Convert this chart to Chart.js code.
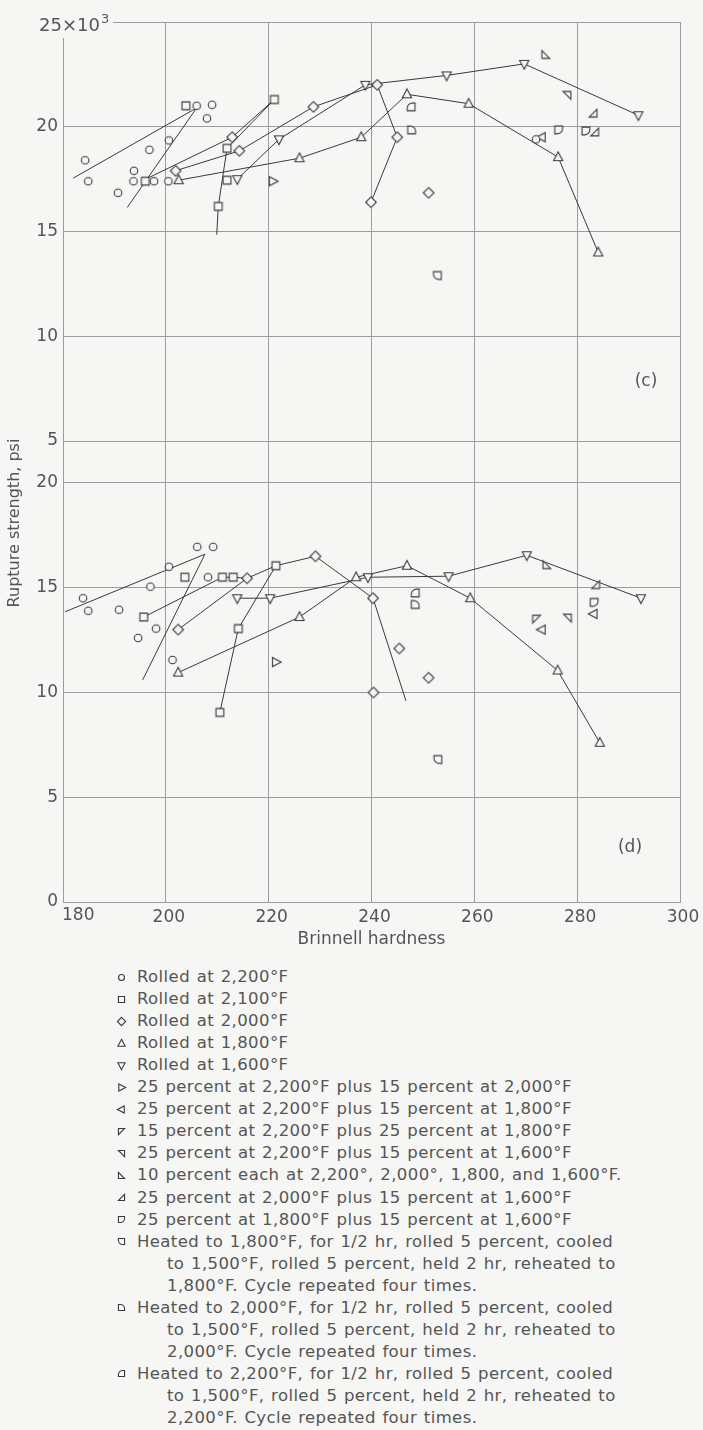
<!DOCTYPE html>
<html>
<head>
<meta charset="utf-8">
<script src="https://cdn.jsdelivr.net/npm/chart.js@4.4.1/dist/chart.umd.min.js"></script>
<style>
    html, body { margin: 0; padding: 0; background: #f6f6f4; }
    body { width: 703px; height: 1430px; position: relative; overflow: hidden;
           font-family: "DejaVu Sans", sans-serif; color: #555; }
    #chart { position: absolute; left: 0; top: 0; }
    .legend-row { position: absolute; white-space: nowrap; font-size: 16.5px; line-height: 22px;
                  letter-spacing: 0.4px; word-spacing: 1px; }
    .legend-mark { position: absolute; }
</style>
</head>
<body>
<canvas id="chart" width="703" height="960"></canvas>
<div id="legend"></div>
<script>
/**
 * Rupture strength vs Brinell hardness, panels (c) and (d).
 * Points are [Brinell hardness, rupture strength in 1000 psi].
 */

// Tick labels
const hardnessTicks = [180, 200, 220, 240, 260, 280, 300];
const panelCTicks = [5, 10, 15, 20, 25];
const panelDTicks = [0, 5, 10, 15, 20];
// Panel (c) is stacked above panel (d) on one shared scale
const PANEL_C_SHIFT = 17;

// ---- Panel (c) ----
const cRolled2200 = [[184.3, 18.4], [184.9, 17.4], [190.7, 16.85], [193.8, 17.9], [193.7, 17.4], [196.8, 18.9],
    [197.7, 17.4], [200.6, 19.35], [200.5, 17.4], [206.0, 21.0], [208.0, 20.4], [209.0, 21.05], [272.0, 19.4]];
const cRolled2100 = [[203.9, 21.0], [196.0, 17.4], [211.9, 18.97], [211.9, 17.45], [210.2, 16.2], [221.1, 21.3]];
const cRolled2000 = [[201.9, 17.9], [212.9, 19.5], [214.3, 18.85], [228.7, 20.95], [241.1, 22.0], [245.0, 19.5],
    [239.9, 16.4], [251.1, 16.85]];
const cRolled1800 = [[202.5, 17.45], [226.0, 18.5], [238.0, 19.5], [246.9, 21.55], [258.9, 21.1], [276.3, 18.55], [284.1, 14.0]];
const cRolled1600 = [[213.9, 17.5], [222.0, 19.4], [238.8, 22.0], [254.6, 22.45], [269.7, 23.0], [291.9, 20.55]];
const c25at2200_15at2000 = [[220.8, 17.4]];
const c25at2200_15at1800 = [[273.1, 19.5]];
const c15at2200_25at1800 = [];
const c25at2200_15at1600 = [[278.0, 21.5]];
const c10each = [[273.9, 23.45]];
const c25at2000_15at1600 = [[283.1, 20.65], [283.4, 19.75]];
const c25at1800_15at1600 = [[276.4, 19.85], [281.7, 19.8]];
const cCycled1800 = [[252.8, 12.9]];
const cCycled2000 = [[247.8, 19.85]];
const cCycled2200 = [[247.7, 20.95]];

const cLine1 = [[182.0, 17.55], [206.0, 20.9]];
const cLine2 = [[192.5, 16.15], [206.0, 20.9]];
const cLine3 = [[196.5, 17.55], [212.9, 19.5], [221.1, 21.3]];
const cLine4 = [[209.9, 14.85], [210.2, 16.2], [211.9, 18.97], [221.1, 21.3]];
const cLine5 = [[201.9, 17.9], [214.3, 18.85], [228.7, 20.95], [241.1, 22.0], [245.0, 19.5], [239.9, 16.4]];
const cLine6 = [[202.5, 17.45], [226.0, 18.5], [238.0, 19.5], [246.9, 21.55], [258.9, 21.1], [276.3, 18.55], [284.1, 14.0]];
const cLine7 = [[213.9, 17.5], [222.0, 19.4], [238.8, 22.0], [254.6, 22.45], [269.7, 23.0], [291.9, 20.55]];

// ---- Panel (d) ----
const dRolled2200 = [[183.9, 14.5], [184.9, 13.9], [190.9, 13.95], [194.6, 12.6], [197.0, 15.05], [198.1, 13.05],
    [200.6, 16.0], [201.3, 11.55], [206.1, 16.95], [209.2, 16.95], [208.2, 15.5]];
const dRolled2100 = [[195.7, 13.6], [203.7, 15.5], [211.0, 15.5], [213.1, 15.5], [221.4, 16.05], [214.1, 13.05], [210.5, 9.05]];
const dRolled2000 = [[202.4, 13.0], [215.8, 15.45], [229.1, 16.5], [240.3, 14.5], [245.4, 12.1], [251.1, 10.7], [240.4, 10.0]];
const dRolled1800 = [[202.4, 10.95], [226.0, 13.6], [237.0, 15.5], [246.9, 16.05], [259.2, 14.5], [276.2, 11.05], [284.4, 7.6]];
const dRolled1600 = [[213.9, 14.5], [220.3, 14.5], [239.3, 15.5], [255.0, 15.55], [270.2, 16.55], [292.4, 14.5]];
const d25at2200_15at2000 = [[221.4, 11.45]];
const d25at2200_15at1800 = [[273.1, 13.0], [283.2, 13.75]];
const d15at2200_25at1800 = [[272.1, 13.5]];
const d25at2200_15at1600 = [[278.1, 13.55]];
const d10each = [[274.1, 16.1]];
const d25at2000_15at1600 = [[283.6, 15.15]];
const d25at1800_15at1600 = [[283.3, 14.3]];
const dCycled1800 = [[252.9, 6.8]];
const dCycled2000 = [[248.5, 14.2]];
const dCycled2200 = [[248.5, 14.75]];

const dLine1 = [[180.4, 13.85], [207.6, 16.6]];
const dLine2 = [[195.5, 10.6], [207.6, 16.6]];
const dLine3 = [[195.7, 13.6], [211.0, 15.5], [213.1, 15.5], [215.8, 15.45]];
const dLine4 = [[210.5, 9.05], [214.1, 13.05], [221.4, 16.05]];
const dLine5 = [[202.4, 13.0], [215.8, 15.45], [221.4, 16.05], [229.1, 16.5], [240.3, 14.5], [246.7, 9.6]];
const dLine6 = [[202.4, 10.95], [226.0, 13.6], [237.0, 15.5], [246.9, 16.05], [259.2, 14.5], [276.2, 11.05], [284.4, 7.6]];
const dLine7 = [[213.9, 14.5], [220.3, 14.5], [239.3, 15.5], [255.0, 15.55], [270.2, 16.55], [292.4, 14.5]];

// Legend text, one entry per symbol (continuation lines indented)
const legendLabels = [
    ['Rolled at 2,200°F'],
    ['Rolled at 2,100°F'],
    ['Rolled at 2,000°F'],
    ['Rolled at 1,800°F'],
    ['Rolled at 1,600°F'],
    ['25 percent at 2,200°F plus 15 percent at 2,000°F'],
    ['25 percent at 2,200°F plus 15 percent at 1,800°F'],
    ['15 percent at 2,200°F plus 25 percent at 1,800°F'],
    ['25 percent at 2,200°F plus 15 percent at 1,600°F'],
    ['10 percent each at 2,200°, 2,000°, 1,800, and 1,600°F.'],
    ['25 percent at 2,000°F plus 15 percent at 1,600°F'],
    ['25 percent at 1,800°F plus 15 percent at 1,600°F'],
    ['Heated to 1,800°F, for 1/2 hr, rolled 5 percent, cooled',
     'to 1,500°F, rolled 5 percent, held 2 hr, reheated to',
     '1,800°F. Cycle repeated four times.'],
    ['Heated to 2,000°F, for 1/2 hr, rolled 5 percent, cooled',
     'to 1,500°F, rolled 5 percent, held 2 hr, reheated to',
     '2,000°F. Cycle repeated four times.'],
    ['Heated to 2,200°F, for 1/2 hr, rolled 5 percent, cooled',
     'to 1,500°F, rolled 5 percent, held 2 hr, reheated to',
     '2,200°F. Cycle repeated four times.']
];

const markerKinds = ['circle', 'square', 'diamond', 'triUp', 'triDown', 'triRight', 'triLeft',
    'rtTL', 'rtTR', 'rtBL', 'rtBR', 'roundBR', 'roundBL', 'roundTR', 'roundTL'];

const cSeries = [cRolled2200, cRolled2100, cRolled2000, cRolled1800, cRolled1600, c25at2200_15at2000,
    c25at2200_15at1800, c15at2200_25at1800, c25at2200_15at1600, c10each, c25at2000_15at1600,
    c25at1800_15at1600, cCycled1800, cCycled2000, cCycled2200];
const dSeries = [dRolled2200, dRolled2100, dRolled2000, dRolled1800, dRolled1600, d25at2200_15at2000,
    d25at2200_15at1800, d15at2200_25at1800, d25at2200_15at1600, d10each, d25at2000_15at1600,
    d25at1800_15at1600, dCycled1800, dCycled2000, dCycled2200];
const cLines = [cLine1, cLine2, cLine3, cLine4, cLine5, cLine6, cLine7];
const dLines = [dLine1, dLine2, dLine3, dLine4, dLine5, dLine6, dLine7];

const BG = '#f6f6f4';
const INK = '#3a3a3a';
const GRID = '#9c9c9c';
const TEXT = '#555555';
const FONT = '"DejaVu Sans", sans-serif';

/**
 * Trace one symbol outline centred on 0,0
 */
function traceMarker(ctx, kind, s) {
    const h = s * 0.85;
    const poly = pts => {
        ctx.moveTo(pts[0][0], pts[0][1]);
        pts.slice(1).forEach(p => ctx.lineTo(p[0], p[1]));
        ctx.closePath();
    };
    const tri = deg => {
        const a = deg * Math.PI / 180;
        const base = [[0, -1.15 * s], [s, 0.75 * s], [-s, 0.75 * s]];
        poly(base.map(([x, y]) => [x * Math.cos(a) - y * Math.sin(a), x * Math.sin(a) + y * Math.cos(a)]));
    };
    const corners = { TL: [-h, -h], TR: [h, -h], BR: [h, h], BL: [-h, h] };
    const ring = ['TL', 'TR', 'BR', 'BL'];
    const rounded = which => {
        const i = ring.indexOf(which);
        const at = k => corners[ring[(i + k) % 4]];
        ctx.moveTo(...at(2));
        ctx.lineTo(...at(3));
        ctx.arcTo(...at(0), ...at(1), h * 1.4);
        ctx.lineTo(...at(1));
        ctx.closePath();
    };
    switch (kind) {
        case 'circle': ctx.arc(0, 0, s * 0.82, 0, Math.PI * 2); break;
        case 'square': ctx.rect(-h, -h, 2 * h, 2 * h); break;
        case 'diamond': poly([[0, -1.15 * s], [1.15 * s, 0], [0, 1.15 * s], [-1.15 * s, 0]]); break;
        case 'triUp': tri(0); break;
        case 'triDown': tri(180); break;
        case 'triRight': tri(90); break;
        case 'triLeft': tri(270); break;
        case 'rtTL': poly([corners.TL, corners.TR, corners.BL]); break;
        case 'rtTR': poly([corners.TL, corners.TR, corners.BR]); break;
        case 'rtBL': poly([corners.TL, corners.BR, corners.BL]); break;
        case 'rtBR': poly([corners.TR, corners.BR, corners.BL]); break;
        default: rounded(kind.slice(5));
    }
}

/**
 * Build a small canvas holding one open symbol, used as a point style
 */
function markerCanvas(kind, s) {
    const size = Math.ceil(s * 3) + 2;
    const c = document.createElement('canvas');
    c.width = size;
    c.height = size;
    const ctx = c.getContext('2d');
    ctx.translate(size / 2, size / 2);
    ctx.beginPath();
    traceMarker(ctx, kind, s);
    ctx.fillStyle = BG;
    ctx.fill();
    ctx.lineWidth = 1.1;
    ctx.strokeStyle = INK;
    ctx.stroke();
    return c;
}

const toPoints = arr => arr.map(([x, y]) => ({ x: x, y: y }));

// Build datasets: symbols on top, connecting lines underneath
const datasets = [];
markerKinds.forEach((kind, i) => {
    const style = markerCanvas(kind, 4.6);
    datasets.push({ data: toPoints(cSeries[i]), yAxisID: 'yTop', pointStyle: style, showLine: false, order: 1 });
    datasets.push({ data: toPoints(dSeries[i]), yAxisID: 'y', pointStyle: style, showLine: false, order: 1 });
});
const lineStyle = { showLine: true, pointRadius: 0, pointHoverRadius: 0, borderColor: INK, borderWidth: 1, order: 2 };
cLines.forEach(l => datasets.push(Object.assign({ data: toPoints(l), yAxisID: 'yTop' }, lineStyle)));
dLines.forEach(l => datasets.push(Object.assign({ data: toPoints(l), yAxisID: 'y' }, lineStyle)));

const yTickValues = panelDTicks.concat(panelCTicks.map(v => v + PANEL_C_SHIFT));
const yMax = Math.max(...panelCTicks) + PANEL_C_SHIFT;

// Extra lettering: the 25x10^3 corner label, axis title, panel tags
const decorations = {
    id: 'decorations',
    afterDraw(chart) {
        const ctx = chart.ctx;
        const area = chart.chartArea;
        ctx.save();
        // clear the corner where the exponent label sits
        ctx.fillStyle = BG;
        ctx.fillRect(area.left - 40, 0, 90, area.top + 16);
        ctx.fillStyle = TEXT;
        ctx.font = '18px ' + FONT;
        ctx.textAlign = 'right';
        ctx.textBaseline = 'alphabetic';
        ctx.fillText('25×10', 100, 31);
        ctx.font = '13px ' + FONT;
        ctx.textAlign = 'left';
        ctx.fillText('3', 101, 23);

        ctx.font = '17px ' + FONT;
        ctx.textAlign = 'left';
        ctx.textBaseline = 'middle';
        ctx.fillText(String(hardnessTicks[0]), area.left - 1, area.bottom + 14);

        ctx.textAlign = 'center';
        ctx.fillText('(c)', 646, 382);
        ctx.fillText('(d)', 630, 848);

        ctx.font = '16px ' + FONT;
        ctx.translate(15, 523);
        ctx.rotate(-Math.PI / 2);
        ctx.fillText('Rupture strength, psi', 0, 0);
        ctx.restore();
    }
};

new Chart(document.getElementById('chart'), {
    type: 'scatter',
    data: { datasets: datasets },
    options: {
        responsive: false,
        animation: false,
        layout: { padding: { left: 0, right: 23, top: 22, bottom: 0 } },
        plugins: {
            legend: { display: false },
            tooltip: { enabled: false }
        },
        scales: {
            x: {
                type: 'linear',
                min: hardnessTicks[0],
                max: hardnessTicks[hardnessTicks.length - 1],
                afterBuildTicks: scale => { scale.ticks = hardnessTicks.map(v => ({ value: v })); },
                afterFit: scale => { scale.height = 58; },
                ticks: {
                    autoSkip: false,
                    maxRotation: 0,
                    padding: 5,
                    labelOffset: 3,
                    color: TEXT,
                    font: { family: FONT, size: 17 },
                    callback: v => (v === hardnessTicks[0] ? '' : v)
                },
                grid: { color: GRID, lineWidth: 1, drawTicks: false },
                border: { color: GRID },
                title: {
                    display: true,
                    text: 'Brinnell hardness',
                    color: TEXT,
                    font: { family: FONT, size: 17 },
                    padding: { top: 0, bottom: 10 }
                }
            },
            y: {
                type: 'linear',
                min: 0,
                max: yMax,
                afterBuildTicks: scale => { scale.ticks = yTickValues.map(v => ({ value: v })); },
                afterFit: scale => { scale.width = 63; },
                ticks: {
                    autoSkip: false,
                    padding: 5,
                    color: TEXT,
                    font: { family: FONT, size: 17 },
                    callback: v => {
                        if (v === yMax) return '';
                        return v > Math.max(...panelDTicks) ? v - PANEL_C_SHIFT : v;
                    }
                },
                grid: { color: GRID, lineWidth: 1, drawTicks: false },
                border: { color: GRID }
            },
            yTop: {
                type: 'linear',
                display: false,
                min: -PANEL_C_SHIFT,
                max: Math.max(...panelCTicks)
            }
        }
    },
    plugins: [decorations]
});

// HTML legend below the plot
const LEGEND_TOP = 977;
const LEGEND_STEP = 22.05;
const legendEl = document.getElementById('legend');
let lineNo = 0;
legendLabels.forEach((lines, i) => {
    lines.forEach((text, j) => {
        const cy = LEGEND_TOP + lineNo * LEGEND_STEP;
        const row = document.createElement('div');
        row.className = 'legend-row';
        row.style.left = (j === 0 ? 137 : 167) + 'px';
        row.style.top = (cy - 11) + 'px';
        row.textContent = text;
        legendEl.appendChild(row);
        if (j === 0) {
            const mark = markerCanvas(markerKinds[i], 3.6);
            mark.className = 'legend-mark';
            mark.style.left = (121 - mark.width / 2) + 'px';
            mark.style.top = (cy - mark.height / 2) + 'px';
            legendEl.appendChild(mark);
        }
        lineNo++;
    });
});
</script>
</body>
</html>
